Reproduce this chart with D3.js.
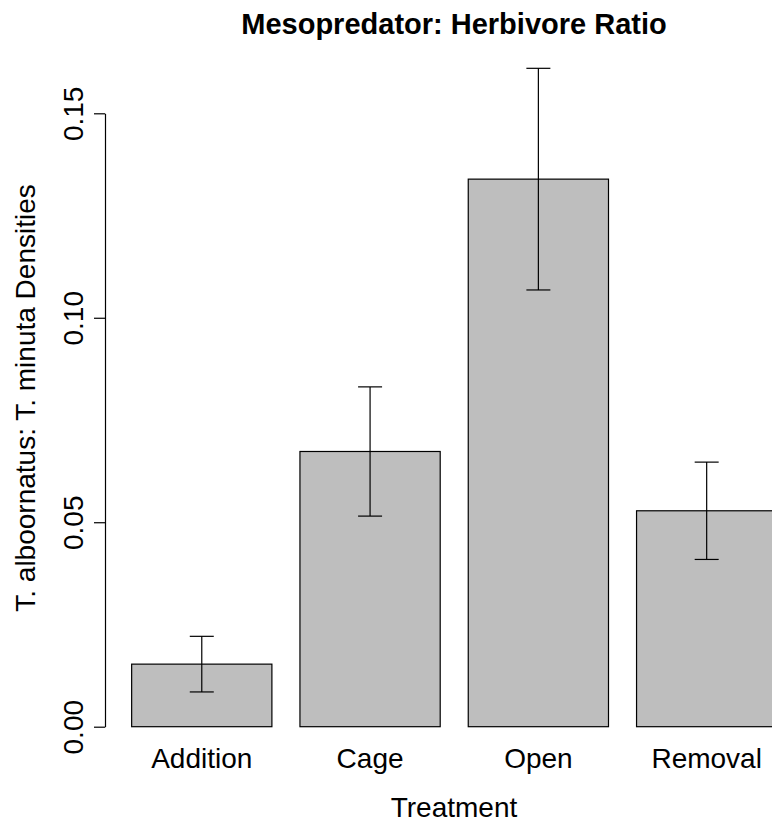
<!DOCTYPE html>
<html>
<head>
<meta charset="utf-8">
<script src="https://cdn.jsdelivr.net/npm/d3@7"></script>
<style>
  body { margin: 0; background: #fff; }
  svg { display: block; font-family: "Liberation Sans", Arial, sans-serif; }
</style>
</head>
<body>
<div id="chart"></div>
<script>
const categories = ["Addition", "Cage", "Open", "Removal"];
const means = [0.0153, 0.0673, 0.1339, 0.0528];
const errors = [0.0068, 0.0158, 0.0271, 0.0119];
const yTicks = [0.00, 0.05, 0.10, 0.15];

const width = 772, height = 827;
const yBottom = 726.7, yTop = 113.3;
const xLeft = 103.6, step = 168.3;

const svg = d3.select("#chart")
              .append("svg")
              .attr("width", width)
              .attr("height", height);

const x = d3.scaleBand()
            .domain(categories)
            .range([xLeft, xLeft + step * (4 + 1 / 6)])
            .paddingInner(1 / 6)
            .paddingOuter(1 / 6);

const y = d3.scaleLinear()
            .domain([0, 0.15])
            .range([yBottom, yTop]);

const data = categories.map((c, i) => ({ cat: c, mean: means[i], se: errors[i] }));

// bars
svg.selectAll(".bar")
   .data(data)
   .enter()
   .append("rect")
   .attr("class", "bar")
   .attr("x", d => x(d.cat))
   .attr("y", d => y(d.mean))
   .attr("width", x.bandwidth())
   .attr("height", d => y(0) - y(d.mean))
   .attr("fill", "#bebebe")
   .attr("stroke", "#000")
   .attr("stroke-width", 1.2);

// error bars
const cap = 12;
const eb = svg.selectAll(".err")
              .data(data)
              .enter()
              .append("g")
              .attr("class", "err")
              .attr("stroke", "#000")
              .attr("stroke-width", 1.2);

eb.append("line")
  .attr("x1", d => x(d.cat) + x.bandwidth() / 2)
  .attr("x2", d => x(d.cat) + x.bandwidth() / 2)
  .attr("y1", d => y(d.mean + d.se))
  .attr("y2", d => y(d.mean - d.se));

eb.append("line")
  .attr("x1", d => x(d.cat) + x.bandwidth() / 2 - cap)
  .attr("x2", d => x(d.cat) + x.bandwidth() / 2 + cap)
  .attr("y1", d => y(d.mean + d.se))
  .attr("y2", d => y(d.mean + d.se));

eb.append("line")
  .attr("x1", d => x(d.cat) + x.bandwidth() / 2 - cap)
  .attr("x2", d => x(d.cat) + x.bandwidth() / 2 + cap)
  .attr("y1", d => y(d.mean - d.se))
  .attr("y2", d => y(d.mean - d.se));

// y axis
const yAxis = svg.append("g")
   .attr("transform", "translate(105,0)")
   .call(d3.axisLeft(y)
           .tickValues(yTicks)
           .tickFormat(d3.format(".2f"))
           .tickSize(11)
           .tickSizeOuter(0));

yAxis.selectAll("path, line").attr("stroke", "#000").attr("stroke-width", 1.2);
yAxis.selectAll("text")
     .attr("transform", "rotate(-90)")
     .attr("x", 0)
     .attr("y", -22)
     .attr("dy", 0)
     .attr("text-anchor", "middle")
     .style("font-size", "28px")
     .style("font-family", "Liberation Sans, Arial, sans-serif")
     .attr("fill", "#000");

// category labels
svg.selectAll(".cat")
   .data(categories)
   .enter()
   .append("text")
   .attr("class", "cat")
   .attr("x", d => x(d) + x.bandwidth() / 2)
   .attr("y", 768)
   .attr("text-anchor", "middle")
   .style("font-size", "28px")
   .text(d => d);

// titles
svg.append("text")
   .attr("x", 454)
   .attr("y", 34)
   .attr("text-anchor", "middle")
   .style("font-size", "29px")
   .style("font-weight", "bold")
   .text("Mesopredator: Herbivore Ratio");

svg.append("text")
   .attr("x", 454)
   .attr("y", 817)
   .attr("text-anchor", "middle")
   .style("font-size", "28px")
   .text("Treatment");

svg.append("text")
   .attr("transform", "translate(35,398) rotate(-90)")
   .attr("text-anchor", "middle")
   .style("font-size", "28px")
   .text("T. alboornatus: T. minuta Densities");
</script>
</body>
</html>
